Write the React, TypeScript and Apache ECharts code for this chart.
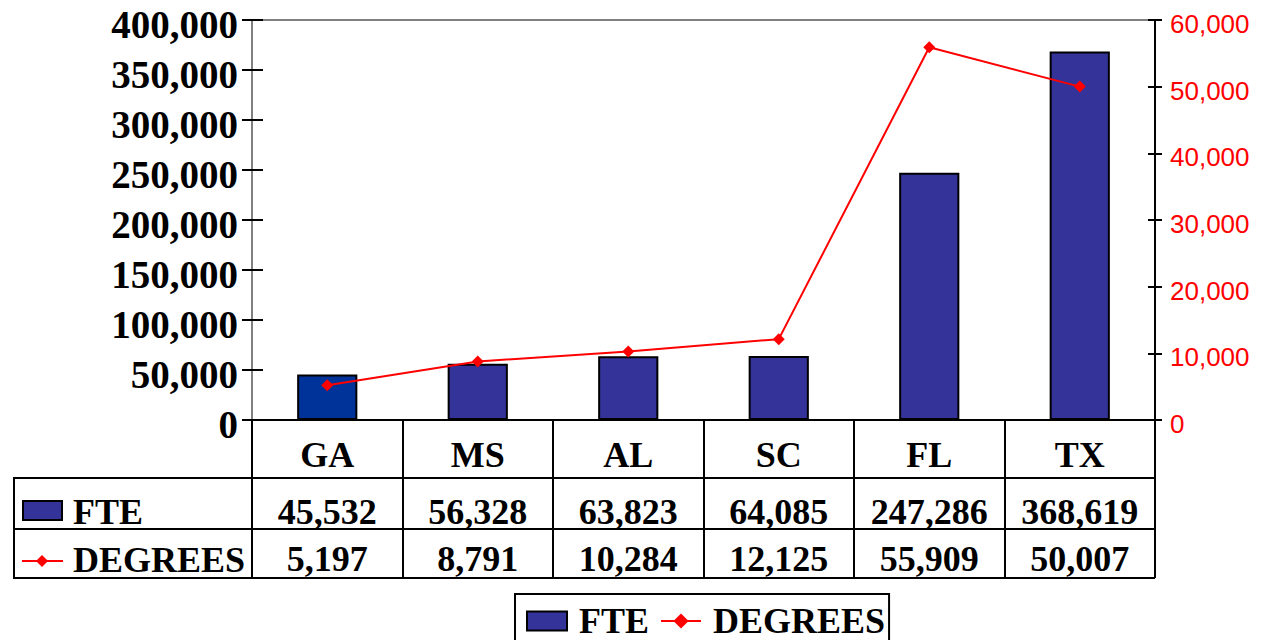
import React, { useEffect, useRef } from "react";
import * as echarts from "echarts";

const categories = ["GA", "MS", "AL", "SC", "FL", "TX"];
const fte = [45532, 56328, 63823, 64085, 247286, 368619];
const degrees = [5197, 8791, 10284, 12125, 55909, 50007];
const seriesNames = ["FTE", "DEGREES"];

const fmt = (v: number) => v.toLocaleString("en-US");
const SERIF = "'Liberation Serif', 'Times New Roman', serif";
const SANS = "'Liberation Sans', Arial, sans-serif";
const BAR = "#333399";
const BAR_FIRST = "#003399";
const RED = "#ff0000";

export default function App() {
  const ref = useRef<HTMLDivElement>(null);
  useEffect(() => {
    if (!ref.current) return;
    const chart = echarts.init(ref.current, undefined, { renderer: "svg" });
    const tableFont = { fontFamily: SERIF, fontWeight: "bold" as const, fontSize: 36, color: "#000" };
    const leftFont = { fontFamily: SERIF, fontWeight: "bold" as const, fontSize: 39, color: "#000" };
    const rightFont = { fontFamily: SANS, fontWeight: "normal" as const, fontSize: 26, color: RED };
    const option: any = {
      animation: false,
      grid: { left: 252, right: 115, top: 20, bottom: 220, containLabel: false },
      legend: {
        data: [{ name: seriesNames[0], icon: "rect" }, { name: seriesNames[1] }],
        left: 515,
        top: 594,
        orient: "horizontal",
        borderColor: "#000",
        borderWidth: 2,
        padding: [9, 4, 12, 11],
        itemWidth: 40,
        itemHeight: 19,
        itemGap: 11,
        textStyle: { ...tableFont, padding: [0, 0, 0, 7] },
        selectedMode: false,
      },
      xAxis: [
        {
          type: "category",
          data: categories,
          position: "bottom",
          axisLine: { lineStyle: { color: "#000", width: 2 } },
          axisTick: { show: true, length: 158, lineStyle: { color: "#000", width: 2 } },
          axisLabel: { ...tableFont, margin: 17, interval: 0, hideOverlap: false },
          splitLine: { show: false },
        },
        {
          type: "category",
          data: fte.map(fmt),
          position: "bottom",
          offset: 58,
          axisLine: { show: false },
          axisTick: { show: false },
          axisLabel: { ...tableFont, margin: 16, interval: 0, hideOverlap: false },
        },
        {
          type: "category",
          data: degrees.map(fmt),
          position: "bottom",
          offset: 109,
          axisLine: { show: false },
          axisTick: { show: false },
          axisLabel: { ...tableFont, margin: 12, interval: 0, hideOverlap: false },
        },
      ],
      yAxis: [
        {
          type: "value",
          position: "left",
          min: 0,
          max: 400000,
          interval: 50000,
          axisLine: { show: true, lineStyle: { color: "#808080", width: 2 } },
          axisTick: { show: true, length: 10, lineStyle: { color: "#000", width: 2 } },
          axisLabel: {
            formatter: (v: number) => `{a|${fmt(v)}}`,
            ...leftFont,
            margin: 14,
            rich: { a: { ...leftFont, padding: [8, 0, 0, 0] } },
          },
          splitLine: { show: false },
        },
        {
          type: "value",
          position: "right",
          min: 0,
          max: 60000,
          interval: 10000,
          axisLine: { show: true, lineStyle: { color: "#000", width: 2 } },
          axisTick: { show: true, length: 7, lineStyle: { color: "#000", width: 2 } },
          axisLabel: {
            formatter: (v: number) => `{a|${fmt(v)}}`,
            ...rightFont,
            margin: 15,
            rich: { a: { ...rightFont, padding: [8, 0, 0, 0] } },
          },
          splitLine: { show: false },
        },
        {
          type: "value",
          position: "left",
          min: 0,
          max: 400000,
          interval: 50000,
          axisLine: { show: false },
          axisTick: { show: true, inside: true, length: 11, lineStyle: { color: "#000", width: 2 } },
          axisLabel: { show: false },
          splitLine: { show: false },
        },
        {
          type: "value",
          position: "right",
          min: 0,
          max: 60000,
          interval: 10000,
          axisLine: { show: false },
          axisTick: { show: true, inside: true, length: 7, lineStyle: { color: "#000", width: 2 } },
          axisLabel: { show: false },
          splitLine: { show: false },
        },
      ],
      series: [
        {
          name: seriesNames[0],
          type: "bar",
          xAxisIndex: 0,
          yAxisIndex: 0,
          barWidth: "40%",
          itemStyle: { color: BAR, borderColor: "#000", borderWidth: 2 },
          data: fte.map((v, i) =>
            i === 0 ? { value: v, itemStyle: { color: BAR_FIRST } } : v
          ),
        },
        {
          name: seriesNames[1],
          type: "line",
          xAxisIndex: 0,
          yAxisIndex: 1,
          symbol: "diamond",
          symbolSize: 12,
          lineStyle: { color: RED, width: 2 },
          itemStyle: { color: RED },
          data: degrees,
          z: 5,
        },
      ],
      graphic: [
        { type: "line", shape: { x1: 252, y1: 20, x2: 1155, y2: 20 }, style: { stroke: "#808080", lineWidth: 2 } },
        { type: "line", shape: { x1: 14, y1: 478, x2: 1155, y2: 478 }, style: { stroke: "#000", lineWidth: 2 } },
        { type: "line", shape: { x1: 14, y1: 529, x2: 1155, y2: 529 }, style: { stroke: "#000", lineWidth: 2 } },
        { type: "line", shape: { x1: 14, y1: 578, x2: 1155, y2: 578 }, style: { stroke: "#000", lineWidth: 2 } },
        { type: "line", shape: { x1: 14, y1: 477, x2: 14, y2: 579 }, style: { stroke: "#000", lineWidth: 2 } },
        { type: "rect", shape: { x: 23, y: 501, width: 39, height: 19 }, style: { fill: BAR, stroke: "#000", lineWidth: 2 } },
        {
          type: "text",
          style: { text: seriesNames[0], x: 73, y: 512, fill: "#000", font: `bold 36px ${SERIF}`, verticalAlign: "middle" },
        },
        { type: "line", shape: { x1: 22, y1: 561, x2: 63, y2: 561 }, style: { stroke: RED, lineWidth: 2 } },
        { type: "polygon", shape: { points: [[42, 555], [48, 561], [42, 567], [36, 561]] }, style: { fill: RED } },
        {
          type: "text",
          style: { text: seriesNames[1], x: 73, y: 560, fill: "#000", font: `bold 36px ${SERIF}`, verticalAlign: "middle" },
        },
      ],
    };
    chart.setOption(option);
    return () => chart.dispose();
  }, []);
  return (
    <div
      ref={ref}
      style={{ position: "absolute", left: 0, top: 0, width: 1270, height: 640, background: "#fff" }}
    />
  );
}
